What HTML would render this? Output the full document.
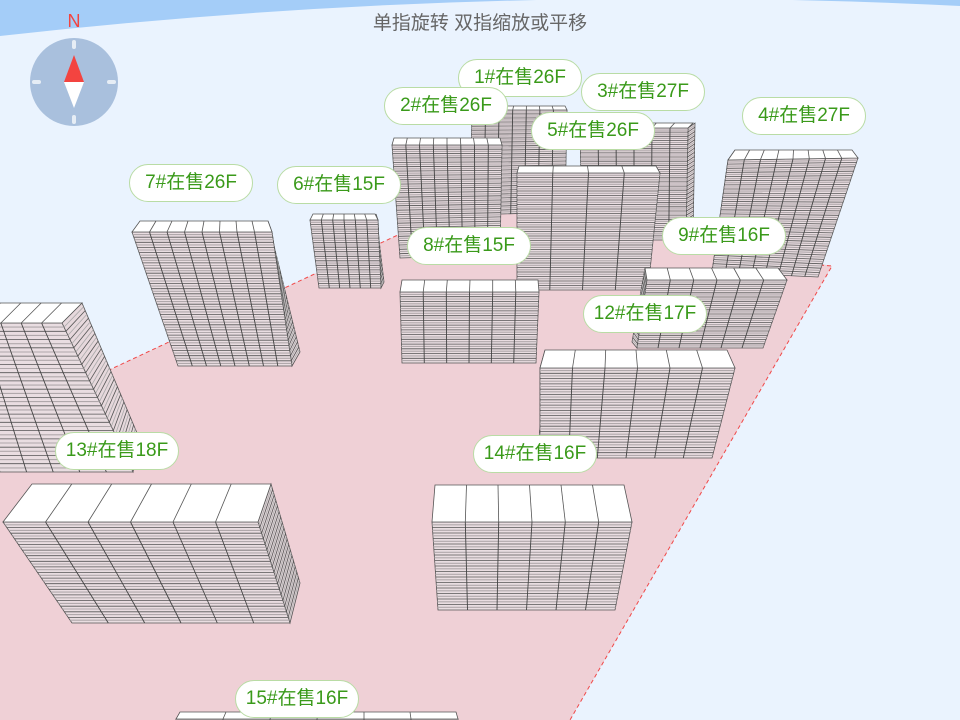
<!DOCTYPE html>
<html><head><meta charset="utf-8"><style>
html,body{margin:0;padding:0;width:960px;height:720px;overflow:hidden;background:#eaf3fe;position:relative}
svg{display:block}
.lb{position:absolute;height:36px;width:122px;margin-left:-62px;margin-top:-19px;background:#fff;border:1px solid #b9dca5;border-radius:19px;color:#3a9a1a;font:19px "Liberation Sans","Noto Sans CJK SC",sans-serif;text-align:center;line-height:36px;box-sizing:content-box}
.t{position:absolute;left:0;top:8px;width:960px;text-align:center;font:19px "Liberation Sans","Noto Sans CJK SC",sans-serif;color:#666}
</style></head><body>
<svg id="s" width="960" height="720" viewBox="0 0 960 720" style="position:absolute;left:0;top:0">
<path d="M0 0H960V6Q480 -18 0 36Z" fill="#a4cdf8"/>
<polygon points="0,421 400,234 515,205 832,266 570,720 0,720" fill="#efd0d6"/>
<polyline points="0,421 400,234" fill="none" stroke="#f04848" stroke-width="1" stroke-dasharray="4,3"/>
<polyline points="820,265 832,266 570,720" fill="none" stroke="#f04848" stroke-width="1" stroke-dasharray="4,3"/>
<g id="bl"></g>
<circle cx="74" cy="82" r="44" fill="#a9c0dd"/>
<g stroke="#e6edf5" stroke-width="4" stroke-linecap="round">
<line x1="74" y1="42" x2="74" y2="47"/><line x1="74" y1="117" x2="74" y2="122"/>
<line x1="34" y1="82" x2="39" y2="82"/><line x1="109" y1="82" x2="114" y2="82"/></g>
<polygon points="74,55 64,82 84,82" fill="#f34440"/>
<polygon points="64,82 84,82 74,108" fill="#fff"/>
<text x="74" y="27" text-anchor="middle" font-family="Liberation Sans,sans-serif" font-size="18" fill="#f34440">N</text>
</svg>
<div class="t">单指旋转 双指缩放或平移</div>
<div class="lb" style="left:520px;top:78px">1#在售26F</div>
<div class="lb" style="left:643px;top:92px">3#在售27F</div>
<div class="lb" style="left:446px;top:106px">2#在售26F</div>
<div class="lb" style="left:593px;top:131px">5#在售26F</div>
<div class="lb" style="left:804px;top:116px">4#在售27F</div>
<div class="lb" style="left:339px;top:185px">6#在售15F</div>
<div class="lb" style="left:191px;top:183px">7#在售26F</div>
<div class="lb" style="left:469px;top:246px">8#在售15F</div>
<div class="lb" style="left:724px;top:236px">9#在售16F</div>
<div class="lb" style="left:645px;top:314px">12#在售17F</div>
<div class="lb" style="left:117px;top:451px">13#在售18F</div>
<div class="lb" style="left:535px;top:454px">14#在售16F</div>
<div class="lb" style="left:297px;top:699px">15#在售16F</div>
<script>
var g=document.getElementById('bl'),h='';
function L(a,b,t){return [a[0]+(b[0]-a[0])*t,a[1]+(b[1]-a[1])*t];}
function P(a){return a.map(function(p){return p[0].toFixed(1)+','+p[1].toFixed(1)}).join(' ');}
function ln(a,b,c,w){h+='<line x1="'+a[0].toFixed(1)+'" y1="'+a[1].toFixed(1)+'" x2="'+b[0].toFixed(1)+'" y2="'+b[1].toFixed(1)+'" stroke="'+c+'" stroke-width="'+w+'"/>';}
function B(f,r,s,n,c){
 var TL=f[0],TR=f[1],BR=f[2],BL=f[3],i,t;
 if(s){h+='<polygon points="'+P(s)+'" fill="#e6d8dc" stroke="#555" stroke-width="0.8"/>';
  for(i=1;i<n*2;i++){t=i/(n*2);ln(L(s[0],s[3],t),L(s[1],s[2],t),i%2?'#aaa':'#555',0.8);}}
 h+='<polygon points="'+P(f)+'" fill="#e9dde1" stroke="#555" stroke-width="0.8"/>';
 for(i=1;i<n*2;i++){t=i/(n*2);ln(L(TL,BL,t),L(TR,BR,t),i%2?'#b0a8ab':'#555',i%2?1.1:0.8);}
 for(i=1;i<c;i++){t=i/c;ln(L(TL,TR,t),L(BL,BR,t),'#444',0.9);}
 if(r){h+='<polygon points="'+P([TL,TR,r[1],r[0]])+'" fill="#fff" stroke="#555" stroke-width="0.8"/>';
  for(i=1;i<c;i++){t=i/c;ln(L(TL,TR,t),L(r[0],r[1],t),'#555',0.8);}}
}
B([[472,110],[567,110],[565,212],[470,215]],[[475,106],[565,106]],null,26,7);
B([[580,128],[688,128],[686,240],[582,240]],[[583,123],[693,123]],[[688,128],[695,123],[693,236],[686,240]],27,6);
B([[392,145],[502,145],[500,255],[400,258]],[[394,138],[500,138]],null,26,8);
B([[517,173],[660,173],[648,290],[517,290]],[[519,166],[656,166]],null,26,4);
B([[728,160],[858,158],[818,277],[712,272]],[[735,150],[852,150]],[[728,160],[735,150],[719,268],[712,272]],27,8);
B([[310,220],[378,220],[381,288],[319,288]],[[313,214],[375,214]],[[378,220],[376,214],[384,282],[381,288]],15,6);
B([[132,232],[272,232],[292,366],[178,366]],[[140,221],[268,221]],[[272,232],[268,221],[300,352],[292,366]],26,8);
B([[647,280],[787,280],[763,348],[637,348]],[[645,268],[778,268]],[[647,280],[645,268],[632,342],[637,348]],16,6);
B([[400,292],[539,292],[536,363],[402,363]],[[402,280],[538,280]],null,15,6);
B([[540,368],[735,368],[712,458],[540,458]],[[545,350],[727,350]],[[540,368],[545,350],[538,455],[540,458]],17,6);
B([[-40,323],[62,323],[133,472],[0,472]],[[-20,303],[82,303]],[[62,323],[82,303],[140,440],[133,472]],18,5);
B([[432,522],[632,522],[615,610],[438,610]],[[435,485],[624,485]],null,16,6);
B([[3,522],[258,522],[290,623],[72,623]],[[32,484],[271,484]],[[258,522],[271,484],[300,583],[290,623]],18,6);
B([[176,719],[458,719],[458,720],[176,720]],[[180,712],[456,712]],null,1,6);
g.innerHTML=h;
</script>
</body></html>
